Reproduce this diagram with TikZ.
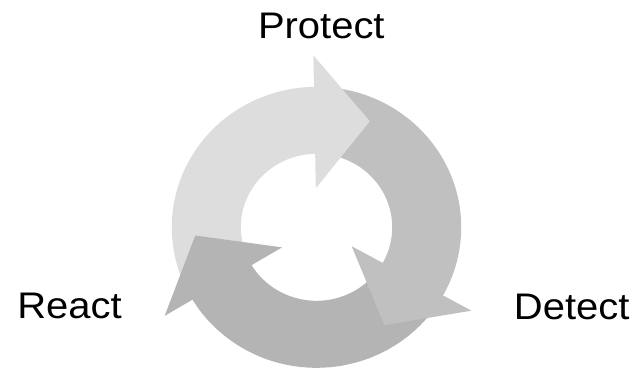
\documentclass[tikz,border=0pt]{standalone}
\usepackage{fontspec}
\setmainfont{Liberation Sans}
\definecolor{protectgray}{RGB}{221,221,221}
\definecolor{detectgray}{RGB}{192,192,192}
\definecolor{reactgray}{RGB}{180,180,180}
\begin{document}
\begin{tikzpicture}[x=1pt, y=1pt,
		steplabel/.style={font=\fontsize{37}{40}\selectfont, anchor=base, xscale=1.08, transform shape}]
		\useasboundingbox (0, 0) rectangle (633, 371);

		\begin{scope}[shift={(316.5, 143.7)}, xscale=1.03]
			% ring pieces first (running a little under their own head), heads on top of the next tail
			\foreach \b/\t/\c in {87/205/protectgray, -33/85/detectgray, 207/325/reactgray}
				\fill[\c] (\t:140.5pt) arc[start angle=\t, end angle=\b, radius=140.5pt]
					-- (\b:73.5pt) arc[start angle=\b, end angle=\t, radius=73.5pt] -- cycle;
			\foreach \b/\c in {91/protectgray, -29/detectgray, 211/reactgray}
				\fill[\c] (\b:39pt) -- (\b:172pt) -- ({\b-27}:118pt) -- cycle;
		\end{scope}

		\node[steplabel] (protect) at (321.3, 332.7) {Protect};
		\node[steplabel] (detect) at (571.7, 51.5) {Detect};
		\node[steplabel] (react) at (69.5, 52.5) {React};
\end{tikzpicture}
\end{document}
